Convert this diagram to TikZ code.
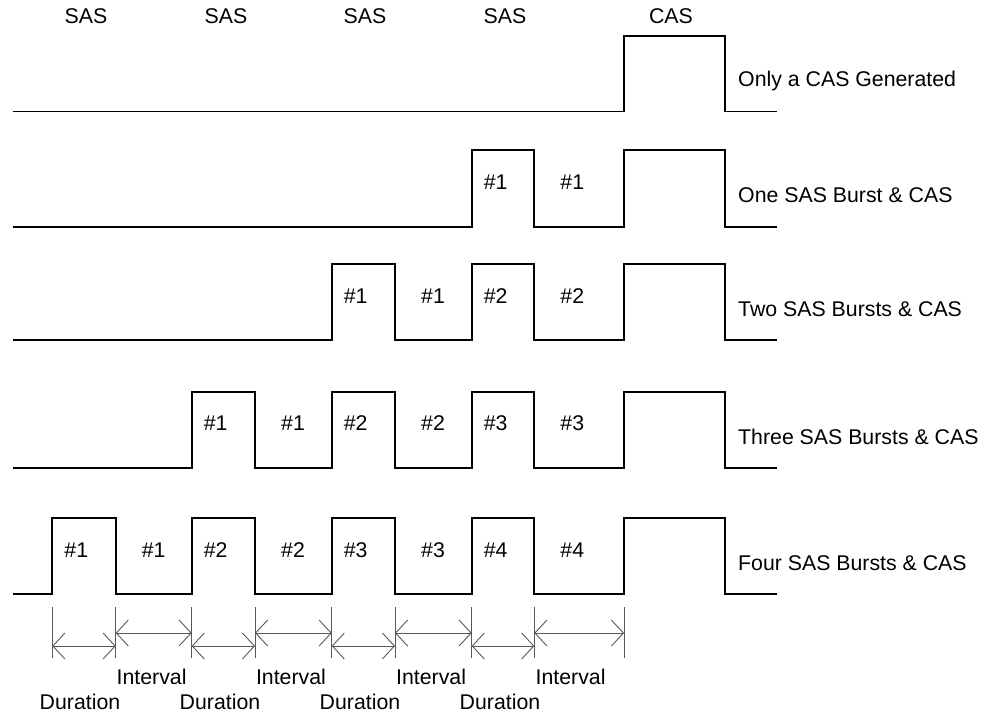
\documentclass[tikz,border=0pt]{standalone}
\usepackage{fontspec}
\setmainfont{Liberation Sans}
\usetikzlibrary{arrows.meta}
\definecolor{dimgray}{gray}{0.35}
\begin{document}
\begin{tikzpicture}[x=1pt,y=-1pt,
  sig/.style={line width=1.9pt,line join=miter,black},
  lbl/.style={font=\fontsize{21.3}{25}\selectfont,inner sep=0pt},
  rlbl/.style={lbl,anchor=west},
  tick/.style={line width=0.9pt,dimgray},
  dim/.style={line width=0.9pt,dimgray,{Straight Barb[length=12pt,width=26pt]}-{Straight Barb[length=12pt,width=26pt]}}]
\useasboundingbox (0,0) rectangle (984,714);

% top labels
\node[lbl] (s1) at (86,16) {SAS};
\node[lbl] (s2) at (226,16) {SAS};
\node[lbl] (s3) at (365,16) {SAS};
\node[lbl] (s4) at (505,16) {SAS};
\node[lbl] (c0) at (671,16) {CAS};

% row 1
\draw[sig] (13.3,111.5) -| (624,36) -| (725,111.5) -- (776.7,111.5);
\node[rlbl] (r1) at (738,81) {Only a CAS Generated};

% row 2
\draw[sig] (13.3,227) -| (471.7,150) -| (534.3,227) -| (624,150) -| (725,227) -- (776.7,227);
\node[lbl] at (495.7,182) {\#1};
\node[lbl] at (572.3,182) {\#1};
\node[rlbl] (r2) at (738,195) {One SAS Burst \& CAS};

% row 3
\draw[sig] (13.3,340) -| (331.7,264.3) -| (395,340) -| (471.7,264.3) -| (534.3,340) -| (624,264.3) -| (725,340) -- (776.7,340);
\node[lbl] at (355.7,296.5) {\#1};
\node[lbl] at (433,296.5) {\#1};
\node[lbl] at (495.7,296.5) {\#2};
\node[lbl] at (572.3,296.5) {\#2};
\node[rlbl] (r3) at (738,309) {Two SAS Bursts \& CAS};

% row 4
\draw[sig] (13.3,467.7) -| (191.7,391.7) -| (255,467.7) -| (331.7,391.7) -| (395,467.7) -| (471.7,391.7) -| (534.3,467.7) -| (624,391.7) -| (725,467.7) -- (776.7,467.7);
\node[lbl] at (215.7,423.5) {\#1};
\node[lbl] at (293,423.5) {\#1};
\node[lbl] at (355.7,423.5) {\#2};
\node[lbl] at (433,423.5) {\#2};
\node[lbl] at (495.7,423.5) {\#3};
\node[lbl] at (572.3,423.5) {\#3};
\node[rlbl] (r4) at (738,436.5) {Three SAS Bursts \& CAS};

% row 5
\draw[sig] (13.3,594.3) -| (52.3,518.3) -| (115.7,594.3) -| (191.7,518.3) -| (255,594.3) -| (331.7,518.3) -| (395,594.3) -| (471.7,518.3) -| (534.3,594.3) -| (624,518.3) -| (725,594.3) -- (776.7,594.3);
\node[lbl] at (76.3,550) {\#1};
\node[lbl] at (153.7,550) {\#1};
\node[lbl] at (215.7,550) {\#2};
\node[lbl] at (293,550) {\#2};
\node[lbl] at (355.7,550) {\#3};
\node[lbl] at (433,550) {\#3};
\node[lbl] at (495.7,550) {\#4};
\node[lbl] at (572.3,550) {\#4};
\node[rlbl] (r5) at (738,563) {Four SAS Bursts \& CAS};

% ticks
\foreach \n/\x in {1/52.3,2/115.7,3/191.7,4/255,5/331.7,6/395,7/471.7,8/534.3,9/624}{
  \coordinate (ta\n) at (\x,607);
  \coordinate (tb\n) at (\x,658);
  \coordinate (ti\n) at (\x,633);
  \coordinate (td\n) at (\x,646);
  \draw[tick] (ta\n) -- (tb\n);
}
% duration arrows
\draw[dim] (td1) -- (td2);
\draw[dim] (td3) -- (td4);
\draw[dim] (td5) -- (td6);
\draw[dim] (td7) -- (td8);
% interval arrows
\draw[dim] (ti2) -- (ti3);
\draw[dim] (ti4) -- (ti5);
\draw[dim] (ti6) -- (ti7);
\draw[dim] (ti8) -- (ti9);

% bottom labels
\node[rlbl] (i1) at (116.5,677) {Interval};
\node[rlbl] (i2) at (255.8,677) {Interval};
\node[rlbl] (i3) at (396,677) {Interval};
\node[rlbl] (i4) at (535.5,677) {Interval};
\node[rlbl] (d1) at (39.5,702) {Duration};
\node[rlbl] (d2) at (179.5,702) {Duration};
\node[rlbl] (d3) at (319.5,702) {Duration};
\node[rlbl] (d4) at (459.5,702) {Duration};
\end{tikzpicture}
\end{document}
